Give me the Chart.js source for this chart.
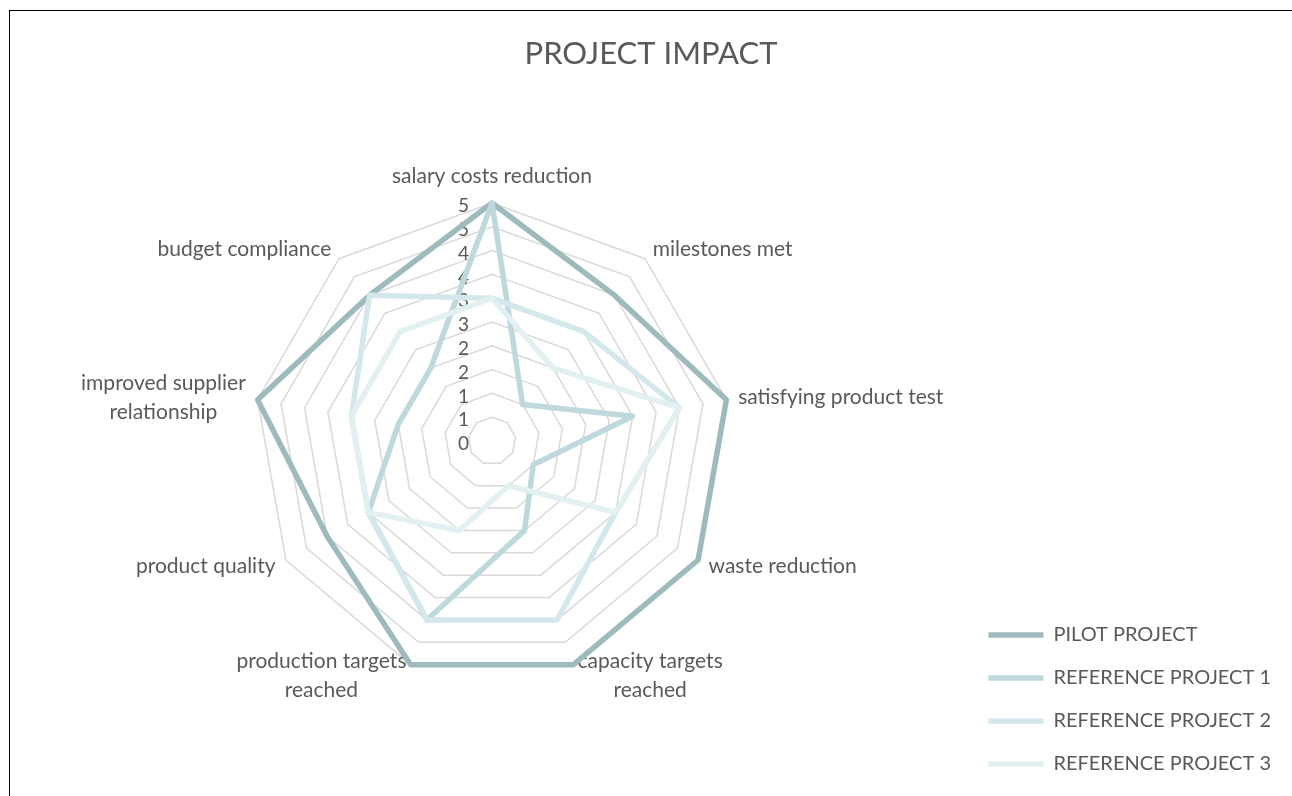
<!DOCTYPE html>
<html>
<head>
<meta charset="utf-8">
<script src="https://cdn.jsdelivr.net/npm/chart.js@4.4.0/dist/chart.umd.min.js"></script>
<style>
  html, body { margin: 0; padding: 0; background: #fff; overflow: hidden; }
  #wrap { position: absolute; left: 9px; top: 10px; width: 1284px; height: 800px;
          border-left: 1.5px solid #000; border-top: 1.5px solid #000; background: #fff; }
</style>
</head>
<body>
<div id="wrap"><canvas id="chart" width="1284" height="800"></canvas></div>
<script>
const categories = [
  "salary costs reduction",
  "milestones met",
  "satisfying product test",
  "waste reduction",
  ["capacity targets", "reached"],
  ["production targets", "reached"],
  "product quality",
  ["improved supplier", "relationship"],
  "budget compliance",
];
const pilotProject = [5, 4, 5, 5, 5, 5, 4, 5, 4];
const referenceProject1 = [5, 1, 3, 1, 2, 4, 3, 2, 2];
const referenceProject2 = [3, 3, 4, 3, 4, 4, 3, 3, 4];
const referenceProject3 = [3, 2, 4, 3, 1, 2, 3, 3, 3];
const tickLabels = ["0", "1", "1", "2", "2", "3", "3", "4", "4", "5", "5"];

const textColor = "#595959";
const fontFamily = "Lato, 'Open Sans', sans-serif";

// where the radar sits inside the canvas (Excel layout, not chart.js auto fit)
const radar = { x: 482, y: 430, radius: 238 };

// tick labels left of the vertical axis + centered category labels, like Excel
const labelPlugin = {
  id: "excelLabels",
  beforeDatasetsDraw(chart) {
    const r = chart.scales.r;
    const ctx = chart.ctx;
    ctx.save();
    ctx.fillStyle = textColor;

    ctx.font = "19px " + fontFamily;
    ctx.textAlign = "right";
    ctx.textBaseline = "middle";
    r.ticks.forEach((t, i) => {
      const d = r.getDistanceFromCenterForValue(t.value);
      ctx.fillText(tickLabels[i], r.xCenter - 23, r.yCenter - d + 3);
    });

    const size = 21;
    const lh = 29;
    ctx.font = size + "px " + fontFamily;
    ctx.textBaseline = "middle";
    categories.forEach((cat, i) => {
      const lines = Array.isArray(cat) ? cat : [cat];
      const p = r.getPointPosition(i, r.drawingArea + 12);
      const ang = (360 / categories.length) * i;
      const w = Math.max(...lines.map((s) => ctx.measureText(s).width));
      const h = lines.length * lh;
      let cx, top;
      if (ang === 0) {
        cx = p.x;
        top = p.y - h;
      } else if (ang < 180) {
        cx = p.x + w / 2;
        top = p.y - h / 2;
      } else {
        cx = p.x - w / 2;
        top = p.y - h / 2;
      }
      ctx.textAlign = "center";
      lines.forEach((s, k) => ctx.fillText(s, cx, top + lh * k + lh / 2));
    });
    ctx.restore();
  },
};

const line = (label, data, color, order) => ({
  label: label,
  data: data,
  borderColor: color,
  backgroundColor: color,
  borderWidth: 5.5,
  borderCapStyle: "round",
  borderJoinStyle: "round",
  pointRadius: 0,
  fill: false,
  order: order,
});

const chart = document.querySelector("#chart");

new Chart(chart, {
  type: "radar",
  data: {
    labels: categories,
    datasets: [
      line("PILOT PROJECT", pilotProject, "#9FBABD", 4),
      line("REFERENCE PROJECT 1", referenceProject1, "#BED8DC", 3),
      line("REFERENCE PROJECT 2", referenceProject2, "#D4E8EB", 2),
      line("REFERENCE PROJECT 3", referenceProject3, "#E3F0F2", 1),
    ],
  },
  options: {
    responsive: false,
    animation: false,
    layout: { padding: { left: 11, right: 13, top: 0, bottom: 14 } },
    plugins: {
      title: {
        display: true,
        text: "PROJECT IMPACT",
        color: textColor,
        font: { family: fontFamily, size: 31, weight: "normal" },
        padding: { top: 24, bottom: 30 },
      },
      legend: {
        position: "right",
        align: "end",
        labels: {
          usePointStyle: true,
          pointStyle: "line",
          pointStyleWidth: 55,
          color: textColor,
          font: { family: fontFamily, size: 20 },
          padding: 23,
          sort: (a, b) => a.datasetIndex - b.datasetIndex,
        },
      },
      tooltip: { enabled: false },
    },
    scales: {
      r: {
        min: 0,
        max: 5,
        ticks: { stepSize: 0.5, display: false },
        grid: { color: "#D9D9D9", lineWidth: 1.5 },
        angleLines: { display: false },
        pointLabels: { display: false },
        afterSetDimensions: (scale) => {
          scale.xCenter = radar.x;
          scale.yCenter = radar.y;
          scale.drawingArea = radar.radius;
        },
      },
    },
  },
  plugins: [labelPlugin],
});
</script>
</body>
</html>
